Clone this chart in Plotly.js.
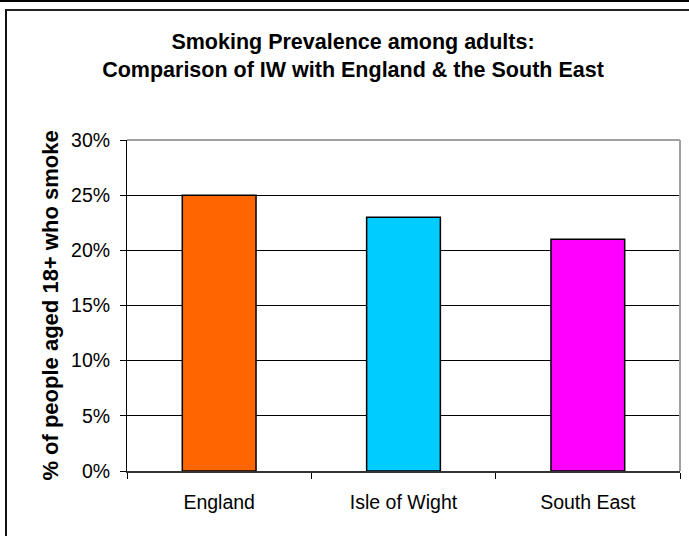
<!DOCTYPE html>
<html>
<head>
<meta charset="utf-8">
<script src="https://cdn.plot.ly/plotly-3.0.1.min.js"></script>
<style>
  html, body { margin: 0; padding: 0; background: #fff; }
  #wrap { position: relative; width: 689px; height: 536px; overflow: hidden; }
  #chart { position: absolute; left: 0; top: 0; width: 689px; height: 536px; }
  #bandTop { position: absolute; left: 0; top: 0; width: 689px; height: 2px; background: #000; z-index: 5; }
  #frame { position: absolute; left: 5px; top: 9px; width: 700px; height: 600px;
           border-left: 2px solid #111; border-top: 2px solid #222; z-index: 5; pointer-events: none; }
</style>
</head>
<body>
<div id="wrap">
  <div id="chart"></div>
  <div id="bandTop"></div>
  <div id="frame"></div>
</div>
<script>
const categories = ["England", "Isle of Wight", "South East"];
const prevalence = [0.25, 0.23, 0.21];
const barColors = ["#FF6600", "#00CCFF", "#FF00FF"];
const yTickValues = [0, 0.05, 0.10, 0.15, 0.20, 0.25, 0.30];
const yTickLabels = ["0%", "5%", "10%", "15%", "20%", "25%", "30%"];
const chartTitle = "Smoking Prevalence among adults:<br>Comparison of IW with England &amp; the South East";
const yTitle = "% of people aged 18+ who smoke";

const font = "Liberation Sans, Arial, Helvetica, sans-serif";

const trace = {
  type: "bar",
  x: categories,
  y: prevalence,
  marker: { color: barColors, line: { color: "#000", width: 1.5 } },
  hoverinfo: "skip"
};

const layout = {
  width: 689,
  height: 536,
  margin: { l: 127, r: 9, t: 140, b: 65, pad: 0 },
  paper_bgcolor: "#fff",
  plot_bgcolor: "#fff",
  showlegend: false,
  bargap: 0.6,
  font: { family: font, color: "#000", size: 19.5 },
  title: {
    text: chartTitle,
    font: { family: font, size: 21.5, color: "#000", weight: "bold" },
    x: 353 / 689, xref: "container", xanchor: "center",
    y: 1 - 49 / 536, yref: "container", yanchor: "top"
  },
  xaxis: {
    type: "category",
    showgrid: false,
    showline: true, linecolor: "#333", linewidth: 1.5,
    ticks: "outside", tickson: "boundaries", ticklen: 6, tickcolor: "#000", tickwidth: 1,
    ticklabelstandoff: 13,
    tickfont: { family: font, size: 19.5, color: "#000" },
    zeroline: false,
    fixedrange: true
  },
  yaxis: {
    range: [0, 0.30],
    tickvals: yTickValues,
    ticktext: yTickLabels,
    showgrid: true, gridcolor: "#000", gridwidth: 1,
    showline: true, linecolor: "#000", linewidth: 1,
    ticks: "outside", ticklen: 6, tickcolor: "#000", tickwidth: 1,
    ticklabelstandoff: 6,
    tickfont: { family: font, size: 19.5, color: "#000" },
    zeroline: false,
    title: { text: yTitle, font: { family: font, size: 22, color: "#000", weight: "bold" }, standoff: 6 },
    fixedrange: true
  },
  shapes: [
    { type: "line", xref: "paper", yref: "paper", x0: 0, x1: 1, y0: 1, y1: 1, line: { color: "#808080", width: 1.5 } },
    { type: "line", xref: "paper", yref: "paper", x0: 1, x1: 1, y0: 0, y1: 1, line: { color: "#a0a0a0", width: 2 } }
  ]
};

Plotly.newPlot("chart", [trace], layout, { displayModeBar: false, staticPlot: true });
</script>
</body>
</html>
